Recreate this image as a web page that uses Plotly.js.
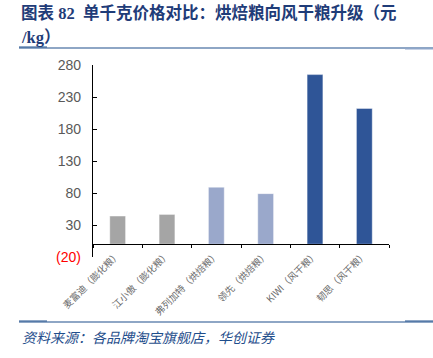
<!DOCTYPE html>
<html>
<head>
<meta charset="utf-8">
<script src="https://cdn.plot.ly/plotly-3.0.1.min.js"></script>
<style>html,body{margin:0;padding:0;background:#fff;}#chart{width:433px;height:358px;}</style>
</head>
<body>
<div id="chart"></div>
<script>
// ---- data ----
const categories = ["麦富迪（膨化粮）", "江小傲（膨化粮）", "弗列加特（烘焙粮）", "领先（烘焙粮）", "KIWI（风干粮）", "韧思（风干粮）"];
const prices = [44, 46.5, 89, 79, 265, 212];
const barColors = ["#A5A5A5", "#A5A5A5", "#9AA8CB", "#9AA8CB", "#2F5597", "#2F5597"];
const yTickVals = [-20, 30, 80, 130, 180, 230, 280];
const yTickText = ['<span style="color:#FF0000">(20)</span>', "30", "80", "130", "180", "230", "280"];
const titleLines = ["<b>图表 82  单千克价格对比：烘焙粮向风干粮升级（元</b>", "<b>/kg）</b>"];

// ---- layout geometry ----
const W = 433, H = 358;
const M = {l: 93, r: 44, t: 65, b: 101};
const pw = W - M.l - M.r, ph = H - M.t - M.b;
const px = x => (x - M.l) / pw;
const py = y => (H - M.b - y) / ph;
const yMin = -20, yMax = 280;

const navy = "#1F4E8C";
const titleFont = {family: "Liberation Serif, Noto Sans CJK SC", size: 16.5, color: "#1F3C78"};

const layout = {
  width: W, height: H,
  margin: M,
  paper_bgcolor: "#fff", plot_bgcolor: "#fff",
  showlegend: false,
  bargap: 0.68,
  xaxis: {
    type: "category",
    anchor: "free",
    position: (0 - yMin) / (yMax - yMin),
    showline: true, linecolor: "#000", linewidth: 1.2,
    ticks: "outside", ticklen: 3, tickcolor: "#000", tickwidth: 1,
    tickson: "boundaries",
    tickangle: -45,
    tickfont: {family: "Noto Sans CJK SC", size: 9.5, color: "#6b6b6b"},
    showgrid: false, zeroline: false, fixedrange: true
  },
  yaxis: {
    range: [yMin, yMax],
    tickvals: yTickVals, ticktext: yTickText,
    showline: true, linecolor: "#000", linewidth: 1.2,
    ticks: "inside", ticklen: 4, tickcolor: "#000",
    tickfont: {family: "Liberation Sans, Arial", size: 14, color: "#595959"},
    ticklabelstandoff: 8,
    showgrid: false, zeroline: false, fixedrange: true
  },
  shapes: [
    {type: "line", xref: "paper", yref: "paper", x0: px(19), x1: px(433), y0: py(48), y1: py(48), line: {color: navy, width: 1.2}},
    {type: "line", xref: "paper", yref: "paper", x0: px(19), x1: px(47), y0: py(47), y1: py(47), line: {color: navy, width: 1}},
    {type: "line", xref: "paper", yref: "paper", x0: px(405), x1: px(433), y0: py(49), y1: py(49), line: {color: "#8FA6CC", width: 1}},
    {type: "line", xref: "paper", yref: "paper", x0: px(19), x1: px(433), y0: py(322), y1: py(322), line: {color: navy, width: 1.2}},
    {type: "line", xref: "paper", yref: "paper", x0: px(19), x1: px(47), y0: py(321), y1: py(321), line: {color: navy, width: 1}},
    {type: "line", xref: "paper", yref: "paper", x0: px(405), x1: px(433), y0: py(321), y1: py(321), line: {color: navy, width: 1}}
  ],
  annotations: [
    {text: titleLines[0], xref: "paper", yref: "paper",
     x: px(19), y: py(13), xanchor: "left", yanchor: "middle", showarrow: false, font: titleFont},
    {text: titleLines[1], xref: "paper", yref: "paper",
     x: px(19), y: py(37), xanchor: "left", yanchor: "middle", showarrow: false, font: titleFont},
    {text: "资料来源：各品牌淘宝旗舰店，华创证券", xref: "paper", yref: "paper",
     x: px(20), y: py(337), xanchor: "left", yanchor: "middle", showarrow: false,
     font: {family: "Noto Sans CJK SC", size: 14, color: "#1F4E8C", style: "italic"}}
  ]
};

const data = [{
  type: "bar",
  x: categories,
  y: prices,
  marker: {color: barColors, line: {color: "rgba(255,255,255,0.5)", width: 0.8}},
  hoverinfo: "skip"
}];

Plotly.newPlot("chart", data, layout, {displayModeBar: false, staticPlot: true});
</script>
</body>
</html>
